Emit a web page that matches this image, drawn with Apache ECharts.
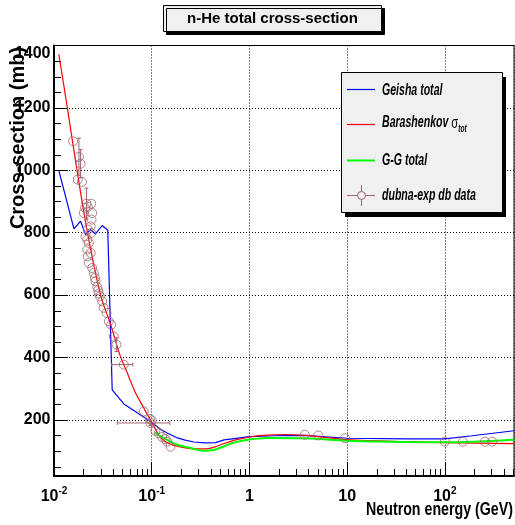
<!DOCTYPE html>
<html>
<head>
<meta charset="utf-8">
<script src="https://cdn.jsdelivr.net/npm/echarts@6/dist/echarts.min.js"></script>
<style>
  html, body { margin: 0; padding: 0; background: #fff; }
  #chart { width: 515px; height: 525px; }
</style>
</head>
<body>
<div id="chart"></div>
<script>
// Neutron energy (GeV) / total cross-section (mb) for each model curve
const geishaE = [0.0112, 0.016, 0.0187, 0.021, 0.0236, 0.0266, 0.0311, 0.0355, 0.0394, 0.0518, 0.0656, 0.097, 0.123, 0.144, 0.183, 0.22, 0.27, 0.35, 0.45, 0.55, 0.7, 1.0, 1.8, 3.7, 10, 40, 100, 190, 510];
const geishaSigma = [1000, 812, 837, 794, 810, 796, 823, 808, 296, 251, 230, 195, 170, 158, 142, 135, 129, 126, 127, 136, 140, 146, 149, 150, 141, 139, 139, 149, 165];

const barashE = [0.0112, 0.0137, 0.0172, 0.022, 0.03, 0.039, 0.047, 0.058, 0.067, 0.083, 0.097, 0.118, 0.138, 0.168, 0.25, 0.35, 0.43, 0.55, 0.69, 1.0, 1.5, 2.2, 3.7, 10, 40, 100, 510];
const barashSigma = [1372, 1200, 1000, 800, 600, 495, 410, 340, 292, 238, 200, 152, 130, 118, 108, 107, 112, 124, 134, 145, 151, 153, 150, 137, 130, 127, 124];

const ggE = [0.108, 0.125, 0.144, 0.183, 0.25, 0.3, 0.35, 0.43, 0.48, 0.6, 0.69, 1.0, 1.5, 3.7, 10, 40, 100, 200, 510];
const ggSigma = [159, 146, 136, 120, 110, 103, 101, 103, 108, 120, 127, 137, 142, 141, 133, 129, 128, 130, 136];

// dubna-exp measurements: energy, cross-section, sigma error (0 = none),
// energy bin edges (0 = no horizontal bar)
const dubnaE = [0.0157, 0.0175, 0.0180, 0.0187, 0.0193, 0.0202, 0.0208, 0.0210, 0.0215, 0.0219, 0.0219, 0.0222, 0.0222, 0.0222, 0.0227, 0.0227, 0.0237, 0.0237, 0.0240, 0.0240, 0.0242, 0.0246, 0.0246, 0.0255, 0.0262, 0.0266, 0.0277, 0.0283, 0.0288, 0.0295, 0.0311, 0.0323, 0.0345, 0.0364, 0.0385, 0.0409, 0.0436, 0.0518, 0.083, 0.0957, 0.097, 0.100, 0.109, 0.118, 0.128, 0.138, 0.144, 0.156, 3.69, 5.06, 9.5, 100, 153, 257, 305];
const dubnaSigma = [1093, 970, 1043, 1021, 963, 863, 880, 788, 893, 778, 746, 883, 810, 724, 767, 703, 820, 735, 893, 799, 842, 863, 687, 671, 655, 644, 626, 615, 605, 596, 580, 559, 543, 516, 505, 467, 441, 377, 227, 203, 190, 198, 165, 157, 145, 138, 130, 114, 152, 150, 141, 130, 130, 130, 130];
const dubnaErr = [0, 0, 60, 45, 0, 0, 0, 0, 50, 0, 0, 0, 0, 0, 0, 0, 0, 0, 0, 0, 0, 0, 0, 0, 0, 0, 0, 0, 0, 0, 0, 0, 0, 0, 0, 0, 22, 0, 0, 0, 8, 0, 0, 0, 0, 0, 0, 0, 0, 0, 0, 0, 0, 0, 0];
const dubnaELow = [0, 0, 0, 0, 0, 0, 0, 0, 0, 0, 0, 0, 0, 0, 0, 0, 0, 0, 0, 0, 0, 0, 0, 0, 0, 0, 0, 0, 0, 0, 0, 0, 0, 0, 0, 0, 0, 0.039, 0, 0, 0.0444, 0, 0, 0, 0, 0, 0, 0, 0, 0, 0, 0, 0, 0, 0];
const dubnaEHigh = [0, 0, 0, 0, 0, 0, 0, 0, 0, 0, 0, 0, 0, 0, 0, 0, 0, 0, 0, 0, 0, 0, 0, 0, 0, 0, 0, 0, 0, 0, 0, 0, 0, 0, 0, 0, 0, 0.064, 0, 0, 0.153, 0, 0, 0, 0, 0, 0, 0, 0, 0, 0, 0, 0, 0, 0];

// Axis ranges and minor tick positions
const xRange = [0.01, 510];
const yRange = [20, 1400];
const xMinorTicks = [0.02, 0.03, 0.04, 0.05, 0.06, 0.07, 0.08, 0.09, 0.2, 0.3, 0.4, 0.5, 0.6, 0.7, 0.8, 0.9, 2, 3, 4, 5, 6, 7, 8, 9, 20, 30, 40, 50, 60, 70, 80, 90, 200, 300, 400, 500];
const yMinorTicks = [50, 100, 150, 250, 300, 350, 450, 500, 550, 650, 700, 750, 850, 900, 950, 1050, 1100, 1150, 1250, 1300, 1350];

const legendNames = ['Geisha total', 'Barashenkov σ', 'G-G total', 'dubna-exp db data'];
const xTitle = 'Neutron energy (GeV)';
const yTitle = 'Cross-section (mb)';

const BLUE = '#0000ff', RED = '#ff0000', GREEN = '#00ff00', DATA = '#a0666e';
const SANS = '"Liberation Sans", Arial, Helvetica, sans-serif';
const MINOR_LEN = 7;

const zip = (xs, ys) => xs.map((x, i) => [x, ys[i]]);

function powerLabel(v) {
  const p = Math.round(Math.log10(v));
  if (p === 0) return '{m|1}';
  if (p === 1) return '{m|10}';
  return '{m|10}{s|' + p + '}';
}

function renderErrorBars(params, api) {
  const e = api.value(0), s = api.value(1), err = api.value(2);
  const lo = api.value(3), hi = api.value(4);
  const style = { stroke: DATA, lineWidth: 1 };
  const out = [];
  const seg = (a, b) => out.push({ type: 'line', shape: { x1: a[0], y1: a[1], x2: b[0], y2: b[1] }, style });
  if (err > 0) {
    const t = api.coord([e, s + err]), b = api.coord([e, s - err]);
    seg(t, b);
    seg([t[0] - 2, t[1]], [t[0] + 2, t[1]]);
    seg([b[0] - 2, b[1]], [b[0] + 2, b[1]]);
  }
  if (lo > 0 && hi > 0) {
    const l = api.coord([lo, s]), r = api.coord([hi, s]);
    seg(l, r);
    seg([l[0], l[1] - 2], [l[0], l[1] + 2]);
    seg([r[0], r[1] - 2], [r[0], r[1] + 2]);
  }
  return { type: 'group', children: out };
}

// Short inward ticks between the labelled decades / hundreds
function renderMinorX(params, api) {
  const p = api.coord([api.value(0), api.value(1)]);
  const x = Math.round(p[0]) + 0.5;
  return { type: 'line', shape: { x1: x, y1: p[1], x2: x, y2: p[1] - MINOR_LEN }, style: { stroke: '#000', lineWidth: 1 } };
}
function renderMinorY(params, api) {
  const p = api.coord([api.value(0), api.value(1)]);
  const y = Math.round(p[1]) + 0.5;
  return { type: 'line', shape: { x1: p[0], y1: y, x2: p[0] + MINOR_LEN, y2: y }, style: { stroke: '#000', lineWidth: 1 } };
}

const chart = echarts.init(document.getElementById('chart'), null, { renderer: 'canvas', devicePixelRatio: 1 });

const tickFont = { fontFamily: SANS, fontWeight: 'bold', fontSize: 16, color: '#000' };
const legendFont = { fontFamily: SANS, fontStyle: 'italic', fontWeight: 'bold', fontSize: 16, fill: '#000' };

const option = {
  animation: false,
  backgroundColor: '#fff',
  title: {
    text: 'n-He total cross-section',
    left: 163, top: 5,
    padding: [5, 24, 5, 24],
    backgroundColor: '#f0f0f0',
    borderColor: '#000', borderWidth: 1,
    shadowColor: '#000', shadowOffsetX: 3, shadowOffsetY: 3, shadowBlur: 0,
    textStyle: { fontFamily: SANS, fontWeight: 'bold', fontSize: 15, color: '#000', lineHeight: 17 }
  },
  grid: { left: 54, right: 1, top: 45.5, bottom: 49, show: true, borderColor: '#000', borderWidth: 1, outerBoundsMode: 'none' },
  xAxis: {
    type: 'log', logBase: 10, min: xRange[0], max: xRange[1],
    axisLine: { lineStyle: { color: '#000', width: 2 } },
    axisTick: { inside: true, length: 14, lineStyle: { color: '#000', width: 1 } },
    axisLabel: {
      margin: 8.5, showMaxLabel: false, formatter: powerLabel,
      rich: {
        m: Object.assign({ lineHeight: 24 }, tickFont),
        s: { fontFamily: SANS, fontWeight: 'bold', fontSize: 10, color: '#000', lineHeight: 24, padding: [0, 0, 10, 0] }
      }
    },
    splitLine: { show: true, lineStyle: { color: '#000', width: 1, type: [1, 2] } }
  },
  yAxis: {
    type: 'value', min: yRange[0], max: yRange[1], splitNumber: 7,
    axisLine: { lineStyle: { color: '#000', width: 2 } },
    axisTick: { inside: true, length: 14, lineStyle: { color: '#000', width: 1 } },
    axisLabel: {
      margin: 3.5, showMinLabel: false,
      formatter: v => (v === yRange[1] ? '{t|' + v + '}' : '{n|' + v + '}'),
      rich: {
        n: Object.assign({}, tickFont),
        t: Object.assign({ padding: [16, 0, 0, 0] }, tickFont)
      }
    },
    splitLine: { show: true, lineStyle: { color: '#000', width: 1, type: [1, 2] } }
  },
  series: [
    { name: 'x minor ticks', type: 'custom', renderItem: renderMinorX, silent: true, z: 1,
      data: xMinorTicks.map(v => [v, yRange[0]]) },
    { name: 'y minor ticks', type: 'custom', renderItem: renderMinorY, silent: true, z: 1,
      data: yMinorTicks.map(v => [xRange[0], v]) },
    { name: legendNames[0], type: 'line', data: zip(geishaE, geishaSigma), showSymbol: false, smooth: false,
      lineStyle: { color: BLUE, width: 1.2 }, z: 3 },
    { name: legendNames[1], type: 'line', data: zip(barashE, barashSigma), showSymbol: false, smooth: 0.3,
      lineStyle: { color: RED, width: 1.2 }, z: 4 },
    { name: legendNames[2], type: 'line', data: zip(ggE, ggSigma), showSymbol: false, smooth: 0.3,
      lineStyle: { color: GREEN, width: 2 }, z: 5 },
    { name: legendNames[3] + ' errors', type: 'custom', renderItem: renderErrorBars, z: 6,
      encode: { x: 0, y: 1 },
      data: dubnaE.map((e, i) => [e, dubnaSigma[i], dubnaErr[i], dubnaELow[i], dubnaEHigh[i]]) },
    { name: legendNames[3], type: 'scatter', data: zip(dubnaE, dubnaSigma), symbol: 'circle', symbolSize: 9, z: 7,
      itemStyle: { color: 'rgba(0,0,0,0)', borderColor: DATA, borderWidth: 1 } }
  ],
  graphic: [
    // axis titles
    { type: 'text', z: 50, x: 513, y: 510, scaleX: 0.79,
      style: { text: xTitle, fontFamily: SANS, fontWeight: 'bold', fontSize: 18, fill: '#000', align: 'right', verticalAlign: 'middle' } },
    { type: 'text', z: 50, x: 18, y: 138, rotation: Math.PI / 2,
      style: { text: yTitle, fontFamily: SANS, fontWeight: 'bold', fontSize: 20, fill: '#000', align: 'center', verticalAlign: 'middle' } },
    // legend box
    {
      type: 'group', z: 100,
      children: [
        { type: 'rect', z: 100, shape: { x: 345, y: 77, width: 161, height: 140 }, style: { fill: '#000' } },
        { type: 'rect', z: 101, shape: { x: 341.5, y: 72.5, width: 161, height: 140 }, style: { fill: '#f0f0f0', stroke: '#000', lineWidth: 1 } },
        { type: 'line', z: 102, shape: { x1: 347, y1: 89.5, x2: 375, y2: 89.5 }, style: { stroke: BLUE, lineWidth: 1.2 } },
        { type: 'line', z: 102, shape: { x1: 347, y1: 124.5, x2: 375, y2: 124.5 }, style: { stroke: RED, lineWidth: 1.2 } },
        { type: 'line', z: 102, shape: { x1: 347, y1: 160.5, x2: 375, y2: 160.5 }, style: { stroke: GREEN, lineWidth: 2 } },
        { type: 'line', z: 102, shape: { x1: 347, y1: 195.5, x2: 375, y2: 195.5 }, style: { stroke: DATA, lineWidth: 1 } },
        { type: 'line', z: 102, shape: { x1: 361.5, y1: 185, x2: 361.5, y2: 206 }, style: { stroke: DATA, lineWidth: 1 } },
        { type: 'circle', z: 103, shape: { cx: 361.5, cy: 195.5, r: 4 }, style: { fill: '#f0f0f0', stroke: DATA, lineWidth: 1 } },
        { type: 'text', z: 103, x: 382, y: 91, scaleX: 0.66,
          style: Object.assign({ text: legendNames[0], verticalAlign: 'middle' }, legendFont) },
        { type: 'text', z: 103, x: 382, y: 123, scaleX: 0.66,
          style: {
            text: '{b|Barashenkov }{g|σ}{s|tot}', verticalAlign: 'middle', fill: '#000',
            rich: {
              b: legendFont,
              g: { fontFamily: SANS, fontSize: 17, fill: '#000' },
              s: { fontFamily: SANS, fontStyle: 'italic', fontWeight: 'bold', fontSize: 10, fill: '#000', padding: [12, 0, 0, 0] }
            }
          } },
        { type: 'text', z: 103, x: 382, y: 161, scaleX: 0.66,
          style: Object.assign({ text: legendNames[2], verticalAlign: 'middle' }, legendFont) },
        { type: 'text', z: 103, x: 382, y: 195.5, scaleX: 0.66,
          style: Object.assign({ text: legendNames[3], verticalAlign: 'middle' }, legendFont) }
      ]
    }
  ]
};

chart.setOption(option);
</script>
</body>
</html>
